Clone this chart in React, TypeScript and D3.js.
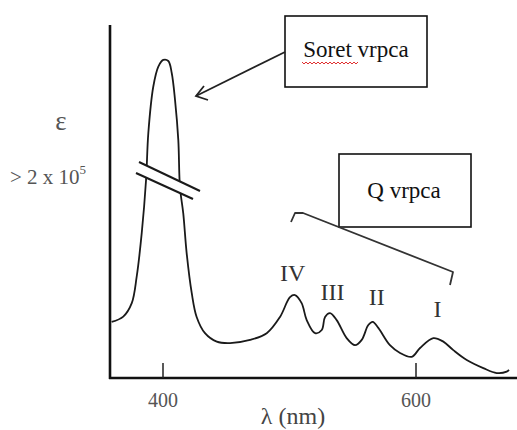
import React from "react";
import * as d3 from "d3";

// Absorption spectrum (wavelength in nm, relative absorbance)
const wavelength = [359.4, 368.6, 375.3, 379.2, 383.2, 386.6, 388.4, 392.3, 396.3, 400.2, 404.2, 406.9, 409.5, 412.1, 413.4, 416.0, 418.7, 422.7, 426.6, 433.2, 442.5, 453.0, 468.8, 482.0, 492.5, 500.4, 504.3, 509.6, 513.6, 520.2, 525.5, 528.1, 532.0, 537.3, 545.2, 551.8, 557.1, 562.3, 565.8, 570.2, 579.4, 587.4, 596.6, 603.2, 613.7, 621.6, 629.5, 640.1, 653.2, 663.8, 671.7, 673.5];
const absorbance = [15.9, 17.4, 21.2, 28.7, 41.1, 56.1, 69.4, 82.5, 88.2, 90.1, 89.8, 86.4, 78.8, 67.4, 54.1, 46.7, 35.4, 24.1, 17.3, 12.7, 10.3, 9.9, 10.8, 12.7, 17.3, 22.9, 23.5, 21.2, 16.4, 12.7, 13.6, 17.3, 18.4, 16.4, 11.3, 9.3, 10.8, 15.0, 15.9, 14.2, 9.3, 7.1, 6.0, 8.5, 11.3, 10.3, 7.9, 5.1, 2.8, 1.4, 1.8, 2.3];

const tickValues = [400, 600];
const tickLabels = ["400", "600"];
const peakLabels = ["IV", "III", "II", "I"];
const peakLabelNm = [502.5, 534, 569, 617];
const xTitle = "λ (nm)";
const yTitle = "ε";
const ySubTitle = "> 2 x 10";
const ySubExp = "5";
const soretLabel = "Soret vrpca";
const qLabel = "Q vrpca";

const W = 517;
const H = 430;

export default function App() {
  const x = d3.scaleLinear().domain([400, 600]).range([163, 416]);
  const y = d3.scaleLinear().domain([0, 100]).range([378, 25]);
  const pts: [number, number][] = wavelength.map((w, i) => [w, absorbance[i]]);
  const line = d3
    .line<[number, number]>()
    .x((d) => x(d[0]))
    .y((d) => y(d[1]))
    .curve(d3.curveCatmullRom.alpha(0.5));

  const axisLeft = 110;
  const axisBottom = y(0);
  const serif = "Liberation Serif, Times New Roman, serif";

  // red squiggle under "Soret"
  let squiggle = "M302,62";
  for (let sx = 302, k = 0; sx < 357; sx += 2, k++) {
    squiggle += ` L${sx + 2},${k % 2 === 0 ? 64 : 62}`;
  }

  const peakY = [281, 300, 305, 317];
  const txt = { fontFamily: serif };

  return (
    <svg
      width={W}
      height={H}
      style={{ position: "absolute", left: 0, top: 0, background: "#fff" }}
    >
      <rect width={W} height={H} fill="#fff" />
      {/* spectrum */}
      <path d={line(pts) || ""} fill="none" stroke="#1a1a1a" strokeWidth={1.8} />
      {/* axis break */}
      <polygon points="139,162 200,191 193,199 136,173" fill="#fff" />
      <line x1={139} y1={162} x2={200} y2={191} stroke="#1a1a1a" strokeWidth={2} />
      <line x1={136} y1={173} x2={193} y2={199} stroke="#1a1a1a" strokeWidth={2} />
      {/* axes */}
      <line x1={axisLeft} y1={25} x2={axisLeft} y2={axisBottom + 1} stroke="#111" strokeWidth={2.6} />
      <line x1={axisLeft - 1} y1={axisBottom} x2={W} y2={axisBottom} stroke="#111" strokeWidth={2.6} />
      {tickValues.map((t, i) => (
        <g key={t}>
          <line x1={x(t)} y1={axisBottom} x2={x(t)} y2={axisBottom - 15} stroke="#222" strokeWidth={1.5} />
          <text x={x(t)} y={407} textAnchor="middle" fontSize={20} fill="#555" style={txt}>
            {tickLabels[i]}
          </text>
        </g>
      ))}
      <text x={293} y={424} textAnchor="middle" fontSize={24} fill="#444" style={txt}>
        {xTitle}
      </text>
      <text x={61} y={130} textAnchor="middle" fontSize={27} fill="#555" style={txt}>
        {yTitle}
      </text>
      <text x={10} y={184} fontSize={21} fill="#555" style={txt}>
        {ySubTitle}
        <tspan dy={-10} fontSize={13}>
          {ySubExp}
        </tspan>
      </text>
      {/* peak labels */}
      {peakLabels.map((p, i) => (
        <text key={p} x={x(peakLabelNm[i])} y={peakY[i]} textAnchor="middle" fontSize={24} fill="#333" style={txt}>
          {p}
        </text>
      ))}
      {/* Soret box */}
      <rect x={285} y={16} width={142} height={71} fill="#fff" stroke="#111" strokeWidth={1.6} />
      <text x={356} y={57} textAnchor="middle" fontSize={23} fill="#111" style={txt}>
        {soretLabel}
      </text>
      <path d={squiggle} fill="none" stroke="#e03030" strokeWidth={1} />
      {/* arrow */}
      <line x1={285} y1={52} x2={196} y2={96} stroke="#222" strokeWidth={1.8} />
      <polyline points="204,86 196,96 208,100" fill="none" stroke="#222" strokeWidth={1.8} />
      {/* Q box */}
      <rect x={339} y={154} width={132} height={73} fill="#fff" stroke="#111" strokeWidth={1.6} />
      <text x={404} y={198} textAnchor="middle" fontSize={23} fill="#111" style={txt}>
        {qLabel}
      </text>
      {/* Q bracket */}
      <polyline
        points="291,222 295,213 303,213 453,272 450,285"
        fill="none"
        stroke="#333"
        strokeWidth={1.8}
        strokeLinejoin="round"
      />
    </svg>
  );
}
